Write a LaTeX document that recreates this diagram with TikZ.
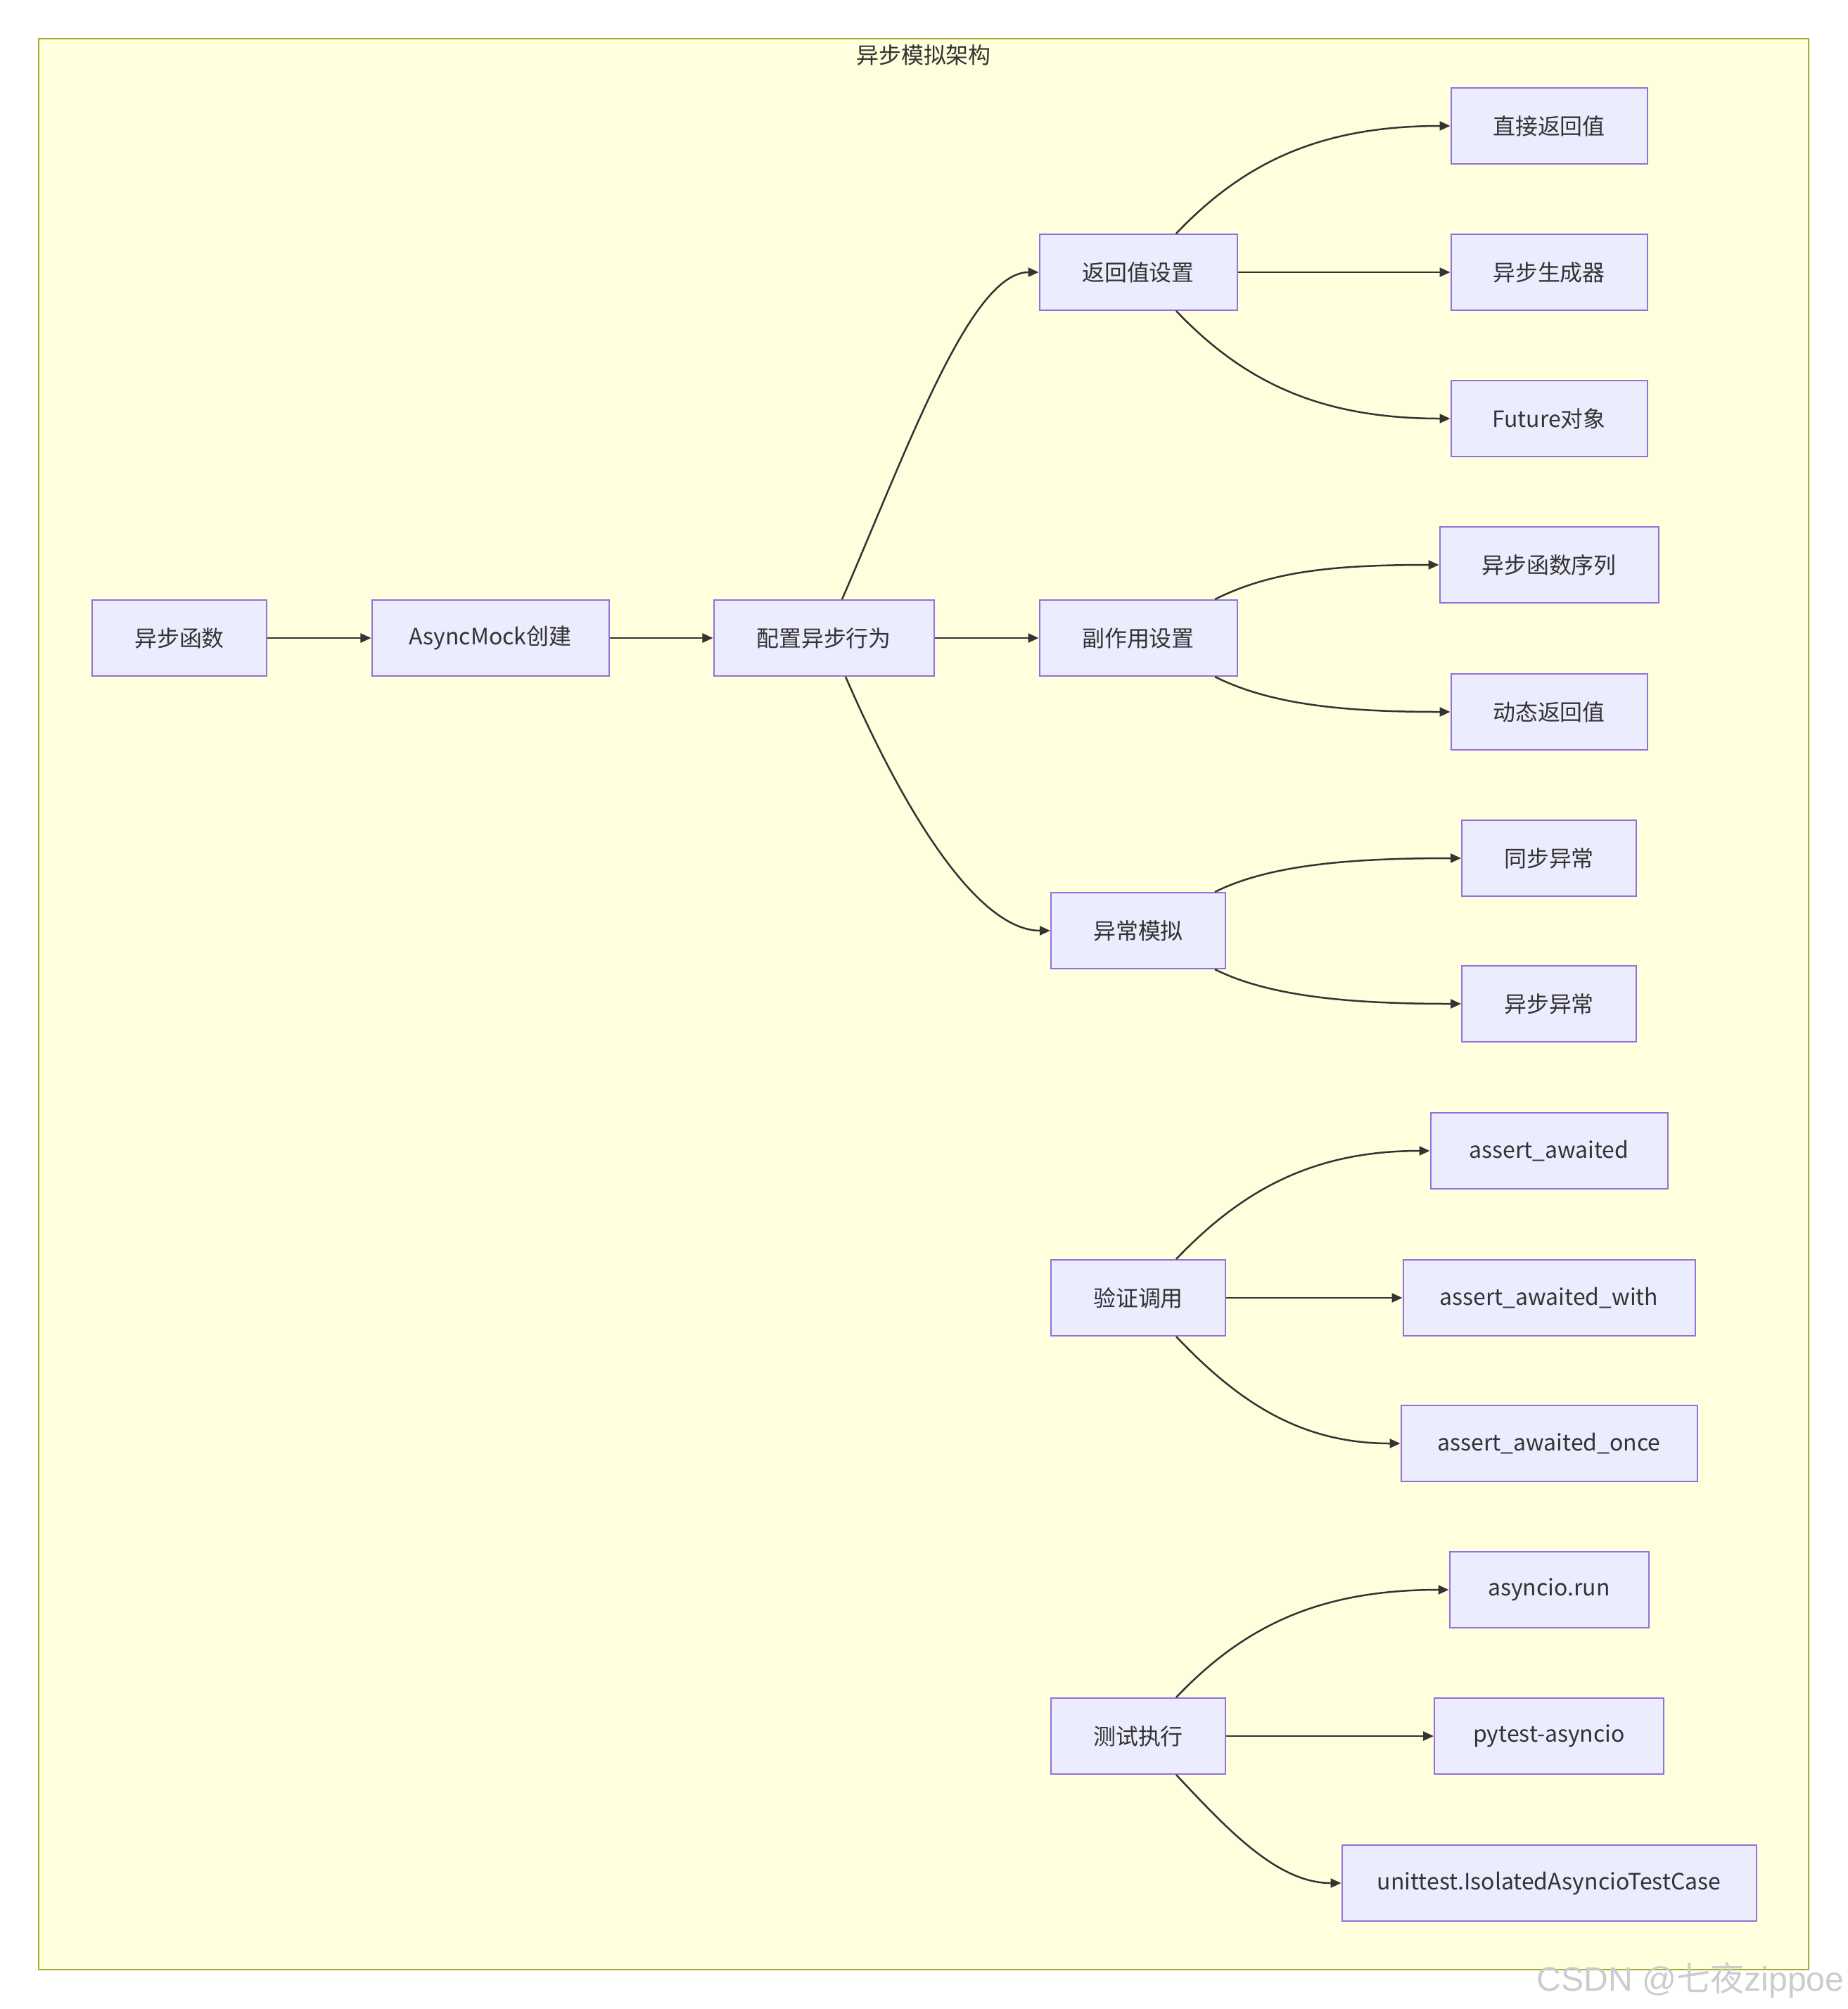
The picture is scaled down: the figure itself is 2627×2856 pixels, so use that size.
\documentclass[tikz,border=0pt]{standalone}
\usepackage{fontspec}
\setmainfont{Noto Sans CJK SC}
\newfontfamily\wmfont{Liberation Sans}
\newfontfamily\cjkfont{Noto Sans CJK SC}
\usetikzlibrary{arrows.meta}
\newlength{\pxu}\setlength{\pxu}{0.01cm}
\definecolor{bgc}{HTML}{FFFFDE}
\definecolor{bgborder}{HTML}{AAAA33}
\definecolor{nodefill}{HTML}{ECECFF}
\definecolor{nodeborder}{HTML}{9370DB}
\definecolor{ink}{HTML}{333333}
\begin{document}
\begin{tikzpicture}[x=0.01cm,y=-0.01cm,
  box/.style={draw=nodeborder, fill=nodefill, line width=2\pxu, minimum height=108\pxu,
    inner sep=0pt, text=ink, font=\fontsize{9.08pt}{11pt}\selectfont},
  edge/.style={draw=ink, line width=2.5\pxu, -{Triangle[length=0.15cm,width=0.13cm]}},
  titlestyle/.style={text=ink, inner sep=0pt, font=\fontsize{9.08pt}{11pt}\selectfont}]
\useasboundingbox (0,0) rectangle (2627,2856);
\draw[fill=bgc, draw=bgborder, line width=2\pxu] (55,55) rectangle (2571,2800);
\node[titlestyle] (title) at (1313,78) {异步模拟架构};

\node[box, minimum width=248\pxu] (A) at (255,907) {异步函数};
\node[box, minimum width=337\pxu] (B) at (697,907) {AsyncMock创建};
\node[box, minimum width=313\pxu] (C) at (1171,907) {配置异步行为};
\node[box, minimum width=281\pxu] (D) at (1618,387) {返回值设置};
\node[box, minimum width=281\pxu] (E) at (1618,907) {副作用设置};
\node[box, minimum width=248\pxu] (F) at (1618,1323) {异常模拟};
\node[box, minimum width=279\pxu] (G) at (2202,179) {直接返回值};
\node[box, minimum width=279\pxu] (H) at (2202,387) {异步生成器};
\node[box, minimum width=279\pxu] (I) at (2202,595) {Future对象};
\node[box, minimum width=311\pxu] (J) at (2202,803) {异步函数序列};
\node[box, minimum width=279\pxu] (K) at (2202,1012) {动态返回值};
\node[box, minimum width=248\pxu] (L) at (2202,1220) {同步异常};
\node[box, minimum width=248\pxu] (M) at (2202,1427) {异步异常};
\node[box, minimum width=248\pxu] (N) at (1618,1845) {验证调用};
\node[box, minimum width=337\pxu] (O) at (2202,1636) {assert\_awaited};
\node[box, minimum width=415\pxu] (P) at (2202,1845) {assert\_awaited\_with};
\node[box, minimum width=421\pxu] (Q) at (2202,2052) {assert\_awaited\_once};
\node[box, minimum width=248\pxu] (R) at (1618,2468) {测试执行};
\node[box, minimum width=283\pxu] (S) at (2202,2260) {asyncio.run};
\node[box, minimum width=326\pxu] (T) at (2202,2468) {pytest-asyncio};
\node[box, minimum width=589\pxu] (U) at (2202,2677) {unittest.IsolatedAsyncioTestCase};

\draw[edge] (A.east) -- (B.west);
\draw[edge] (B.east) -- (C.west);
\draw[edge] (C.east) -- (E.west);
\draw[edge] ([xshift=26\pxu]C.north) .. controls +(93,-214) and +(-97,0) .. (D.west);
\draw[edge] ([xshift=31\pxu]C.south) .. controls +(93,214) and +(-97,0) .. (F.west);
\draw[edge] ([xshift=54\pxu]D.north) .. controls +(98,-103) and +(-182,0) .. (G.west);
\draw[edge] (D.east) -- (H.west);
\draw[edge] ([xshift=54\pxu]D.south) .. controls +(98,103) and +(-182,0) .. (I.west);
\draw[edge] ([xshift=109\pxu]E.north) .. controls +(80,-40) and +(-150,0) .. (J.west);
\draw[edge] ([xshift=109\pxu]E.south) .. controls +(80,40) and +(-150,0) .. (K.west);
\draw[edge] ([xshift=109\pxu]F.north) .. controls +(80,-40) and +(-150,0) .. (L.west);
\draw[edge] ([xshift=109\pxu]F.south) .. controls +(80,40) and +(-150,0) .. (M.west);
\draw[edge] ([xshift=54\pxu]N.north) .. controls +(98,-103) and +(-160,0) .. (O.west);
\draw[edge] (N.east) -- (P.west);
\draw[edge] ([xshift=54\pxu]N.south) .. controls +(90,95) and +(-140,0) .. (Q.west);
\draw[edge] ([xshift=54\pxu]R.north) .. controls +(98,-103) and +(-182,0) .. (S.west);
\draw[edge] (R.east) -- (T.west);
\draw[edge] ([xshift=54\pxu]R.south) .. controls +(75,80) and +(-90,0) .. (U.west);

\node[anchor=base, inner sep=0pt, text=black!20, font=\wmfont\fontsize{13.7pt}{15pt}\selectfont] (wm) at (2403,2830) {CSDN @{\cjkfont 七夜}zippoe};
\end{tikzpicture}
\end{document}
